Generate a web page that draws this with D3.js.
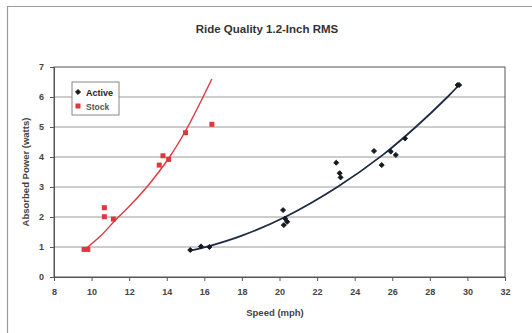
<!DOCTYPE html>
<html>
<head>
<meta charset="utf-8">
<script src="https://cdn.jsdelivr.net/npm/d3@7"></script>
<style>
  body { margin: 0; background: #fff; }
  text { font-family: "Liberation Sans", Arial, sans-serif; }
</style>
</head>
<body>
<div id="chart"></div>
<script>
// values
const activeSpeed = [15.25, 15.82, 16.27, 20.19, 20.23, 20.41, 20.3, 23.02, 23.2, 23.25, 25.03, 25.44, 25.92, 26.19, 26.68, 29.48, 29.56];
const activePower = [0.9, 1.02, 1.0, 2.23, 1.73, 1.84, 1.95, 3.81, 3.46, 3.32, 4.2, 3.73, 4.18, 4.07, 4.62, 6.4, 6.4];
const stockSpeed = [9.6, 9.8, 10.68, 10.68, 11.16, 13.6, 13.8, 14.1, 15.0, 16.4];
const stockPower = [0.92, 0.92, 2.31, 2.01, 1.93, 3.73, 4.04, 3.92, 4.81, 5.09];

// trend lines
const activeTrendSpeed = [15.25, 16.3, 18, 20.3, 23.08, 25.5, 27.25, 28.94, 29.55];
const activeTrendPower = [0.88, 1.04, 1.38, 2.0, 3.0, 4.07, 5.0, 6.0, 6.4];
const stockTrendSpeed = [9.65, 10.5, 11.2, 12.1, 12.94, 14.15, 15.07, 16.4];
const stockTrendPower = [0.92, 1.38, 1.85, 2.42, 3.0, 4.0, 4.95, 6.6];

const xTicks = [8, 10, 12, 14, 16, 18, 20, 22, 24, 26, 28, 30, 32];
const yTicks = [0, 1, 2, 3, 4, 5, 6, 7];

const width = 532;
const height = 333;
const plot = { left: 54, right: 505, top: 67, bottom: 277 };

const x = d3.scaleLinear().domain([8, 32]).range([plot.left, plot.right]);
const y = d3.scaleLinear().domain([0, 7]).range([plot.bottom, plot.top]);

const svg = d3.create("svg")
    .attr("width", width)
    .attr("height", height);

svg.append("rect")
    .attr("width", width)
    .attr("height", height)
    .attr("fill", "#fff");

// outer frame (left and top edges only visible)
svg.append("path")
    .attr("d", `M7.5,${height} V6.5 H${width}`)
    .attr("fill", "none")
    .attr("stroke", "#999")
    .attr("stroke-width", 1.2);

svg.append("text")
    .attr("x", 267)
    .attr("y", 33)
    .attr("text-anchor", "middle")
    .attr("font-size", "11.5px")
    .attr("font-weight", "bold")
    .attr("fill", "#333")
    .text("Ride Quality 1.2-Inch RMS");

// gridlines
svg.append("g")
    .selectAll("line")
    .data(yTicks.filter(d => d > 0 && d < 7))
    .join("line")
    .attr("x1", plot.left)
    .attr("x2", plot.right)
    .attr("y1", d => y(d))
    .attr("y2", d => y(d))
    .attr("stroke", "#9a9a9a")
    .attr("stroke-width", 1);

svg.append("rect")
    .attr("x", plot.left)
    .attr("y", plot.top)
    .attr("width", plot.right - plot.left)
    .attr("height", plot.bottom - plot.top)
    .attr("fill", "none")
    .attr("stroke", "#555")
    .attr("stroke-width", 1);

const xAxis = svg.append("g")
    .attr("transform", `translate(0,${plot.bottom})`)
    .call(d3.axisBottom(x).tickValues(xTicks).tickFormat(d3.format("d")).tickSize(4).tickPadding(8));

const yAxis = svg.append("g")
    .attr("transform", `translate(${plot.left},0)`)
    .call(d3.axisLeft(y).tickValues(yTicks).tickFormat(d3.format("d")).tickSize(4).tickPadding(6));

[xAxis, yAxis].forEach(g => {
    g.select(".domain").attr("stroke", "#555");
    g.selectAll(".tick line").attr("stroke", "#555");
    g.selectAll(".tick text")
        .attr("font-family", "'Liberation Sans', Arial, sans-serif")
        .attr("font-size", "9px")
        .attr("font-weight", "bold")
        .attr("fill", "#444");
});

svg.append("text")
    .attr("x", 275)
    .attr("y", 316)
    .attr("text-anchor", "middle")
    .attr("font-size", "9.5px")
    .attr("font-weight", "bold")
    .attr("fill", "#444")
    .text("Speed (mph)");

svg.append("text")
    .attr("transform", `translate(29,${(plot.top + plot.bottom) / 2}) rotate(-90)`)
    .attr("text-anchor", "middle")
    .attr("font-size", "9.5px")
    .attr("font-weight", "bold")
    .attr("fill", "#444")
    .text("Absorbed Power (watts)");

const line = d3.line()
    .x(d => x(d[0]))
    .y(d => y(d[1]))
    .curve(d3.curveCatmullRom);

svg.append("path")
    .datum(stockTrendSpeed.map((s, i) => [s, stockTrendPower[i]]))
    .attr("d", line)
    .attr("fill", "none")
    .attr("stroke", "#e0383e")
    .attr("stroke-width", 1.4);

svg.append("path")
    .datum(activeTrendSpeed.map((s, i) => [s, activeTrendPower[i]]))
    .attr("d", line)
    .attr("fill", "none")
    .attr("stroke", "#1d2b45")
    .attr("stroke-width", 1.8);

svg.append("g")
    .selectAll("rect")
    .data(stockSpeed.map((s, i) => [s, stockPower[i]]))
    .join("rect")
    .attr("x", d => x(d[0]) - 2.5)
    .attr("y", d => y(d[1]) - 2.5)
    .attr("width", 5)
    .attr("height", 5)
    .attr("fill", "#e0363d");

const diamond = d3.symbol().type(d3.symbolDiamond2).size(16);

svg.append("g")
    .selectAll("path")
    .data(activeSpeed.map((s, i) => [s, activePower[i]]))
    .join("path")
    .attr("transform", d => `translate(${x(d[0])},${y(d[1])})`)
    .attr("d", diamond)
    .attr("fill", "#151a22")
    .attr("stroke", "#151a22")
    .attr("stroke-width", 1)
    .attr("stroke-linejoin", "round");

// legend
const legend = svg.append("g").attr("transform", "translate(72,82)");
legend.append("rect")
    .attr("width", 47)
    .attr("height", 33)
    .attr("fill", "#fff")
    .attr("stroke", "#888")
    .attr("stroke-width", 1);
legend.append("path")
    .attr("transform", "translate(6,10)")
    .attr("d", diamond)
    .attr("fill", "#151a22")
    .attr("stroke", "#151a22")
    .attr("stroke-linejoin", "round");
legend.append("rect")
    .attr("x", 3.5)
    .attr("y", 21.5)
    .attr("width", 5)
    .attr("height", 5)
    .attr("fill", "#e0363d");
legend.append("text")
    .attr("x", 14)
    .attr("y", 13.5)
    .attr("font-size", "9px")
    .attr("font-weight", "bold")
    .attr("fill", "#222")
    .text("Active");
legend.append("text")
    .attr("x", 14)
    .attr("y", 27.5)
    .attr("font-size", "8.5px")
    .attr("font-weight", "bold")
    .attr("fill", "#555")
    .text("Stock");

d3.select("#chart").node().appendChild(svg.node());
</script>
</body>
</html>
